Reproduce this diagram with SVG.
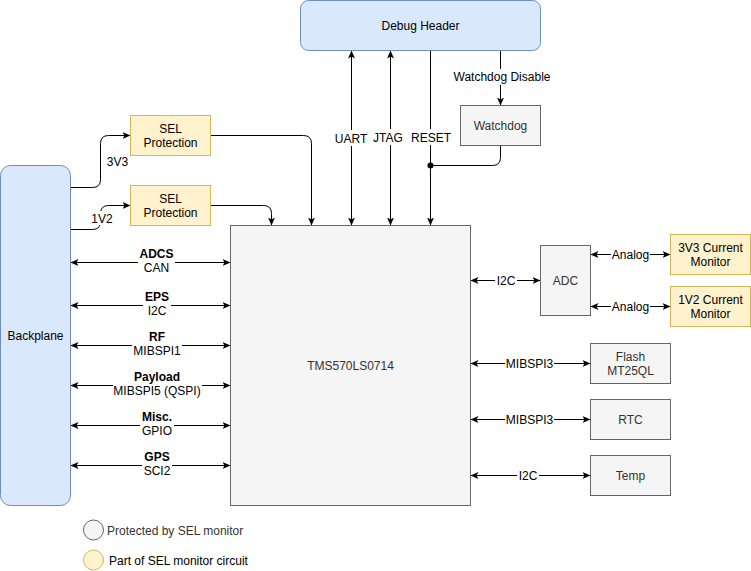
<svg xmlns="http://www.w3.org/2000/svg" width="751" height="571" viewBox="0 0 751 571">
<defs>
<marker id="ah" viewBox="0 0 8 7" refX="8" refY="3.5" markerWidth="8" markerHeight="7" markerUnits="userSpaceOnUse" orient="auto-start-reverse">
<path d="M0,0 L8,3.5 L0,7 L2,3.5 Z" fill="#000"/>
</marker>
</defs>
<style>
text{font-family:"Liberation Sans",Arial,Helvetica,sans-serif;font-size:12px;text-anchor:middle;fill:#000}
.grey{fill:#f5f5f5;stroke:#666666;stroke-width:1}
.grey+text,.gt{fill:#333333}
.yel{fill:#fff2cc;stroke:#d6b656;stroke-width:1}
.blue{fill:#dae8fc;stroke:#6c8ebf;stroke-width:1}
.c{fill:none;stroke:#000;stroke-width:1}
.a{marker-end:url(#ah)}
.b{marker-start:url(#ah);marker-end:url(#ah)}
.bg{fill:#fff;stroke:none}
.bold{font-weight:bold}
.left{text-anchor:start}
</style>

<g id="connectors">
<path class="c a" d="M70.5,187.5 H92.5 Q100.5,187.5 100.5,179.5 V143.5 Q100.5,135.5 108.5,135.5 H130.5"/>
<path class="c a" d="M70.5,229.5 H92.5 Q100.5,229.5 100.5,221.5 V213.5 Q100.5,205.5 108.5,205.5 H130.5"/>
<path class="c a" d="M210.5,135.5 H303.5 Q311.5,135.5 311.5,143.5 V225.5"/>
<path class="c a" d="M210.5,205.5 H263.5 Q271.5,205.5 271.5,213.5 V225.5"/>
<path class="c b" d="M351.5,50.5 V225.5"/>
<path class="c b" d="M390.5,50.5 V225.5"/>
<path class="c a" d="M430.5,50.5 V225.5"/>
<path class="c a" d="M500.5,50.5 V105.5"/>
<path class="c" d="M500.5,145.5 V157.5 Q500.5,165.5 492.5,165.5 H430.5"/>
<circle cx="430.5" cy="165.5" r="3" fill="#000"/>
<path class="c b" d="M70.5,262.5 H230.5"/>
<path class="c b" d="M70.5,305.5 H230.5"/>
<path class="c b" d="M70.5,345.5 H230.5"/>
<path class="c b" d="M70.5,385.5 H230.5"/>
<path class="c b" d="M70.5,425.5 H230.5"/>
<path class="c b" d="M70.5,465.5 H230.5"/>
<path class="c b" d="M470.5,280.5 H540.5"/>
<path class="c b" d="M590.5,254.5 H670.5"/>
<path class="c b" d="M590.5,306.5 H670.5"/>
<path class="c b" d="M470.5,363.5 H590.5"/>
<path class="c b" d="M470.5,419.5 H590.5"/>
<path class="c b" d="M470.5,475.5 H590.5"/>

<text x="117.5" y="166">3V3</text>
<rect class="bg" x="91" y="211" width="22" height="14"/>
<text x="102" y="222.5">1V2</text>

<rect class="bg" x="334" y="130" width="34" height="16"/>
<text x="351" y="142.5">UART</text>
<rect class="bg" x="372" y="129" width="32" height="16"/>
<text x="388" y="141.5">JTAG</text>
<rect class="bg" x="410" y="129" width="42" height="16"/>
<text x="431" y="141.5">RESET</text>
<rect class="bg" x="453" y="69" width="98" height="16"/>
<text x="502" y="81">Watchdog Disable</text>

<rect class="bg" x="138" y="249" width="37" height="27"/>
<text class="bold" x="156.5" y="258">ADCS</text>
<text x="156.5" y="271.5">CAN</text>
<rect class="bg" x="143" y="292" width="28" height="27"/>
<text class="bold" x="157" y="301">EPS</text>
<text x="157" y="314.5">I2C</text>
<rect class="bg" x="132" y="332" width="50" height="27"/>
<text class="bold" x="157" y="341">RF</text>
<text x="157" y="354.5">MIBSPI1</text>
<rect class="bg" x="113" y="372" width="89" height="27"/>
<text class="bold" x="157" y="381">Payload</text>
<text x="157" y="394.5">MIBSPI5 (QSPI)</text>
<rect class="bg" x="140" y="412" width="34" height="27"/>
<text class="bold" x="157" y="421">Misc.</text>
<text x="157" y="434.5">GPIO</text>
<rect class="bg" x="142" y="452" width="30" height="27"/>
<text class="bold" x="157" y="461">GPS</text>
<text x="157" y="474.5">SCI2</text>

<rect class="bg" x="495" y="274" width="22" height="14"/>
<text x="506" y="285">I2C</text>
<rect class="bg" x="611" y="248" width="39" height="14"/>
<text x="630.5" y="259">Analog</text>
<rect class="bg" x="611" y="300" width="39" height="14"/>
<text x="630.5" y="311">Analog</text>
<rect class="bg" x="505" y="357" width="49" height="14"/>
<text x="529.5" y="368">MIBSPI3</text>
<rect class="bg" x="505" y="413" width="49" height="14"/>
<text x="529.5" y="424">MIBSPI3</text>
<rect class="bg" x="517" y="469" width="22" height="14"/>
<text x="528" y="480">I2C</text>
</g>

<g id="backplane">
<rect class="blue" x="0.5" y="165.5" width="70" height="340" rx="10" ry="10"/>
<text x="35.5" y="340">Backplane</text>
</g>
<g id="sel-3v3">
<rect class="yel" x="130.5" y="115.5" width="80" height="40"/>
<text x="170.5" y="132.5">SEL</text>
<text x="170.5" y="146.5">Protection</text>
</g>
<g id="sel-1v2">
<rect class="yel" x="130.5" y="185.5" width="80" height="40"/>
<text x="170.5" y="202.5">SEL</text>
<text x="170.5" y="216.5">Protection</text>
</g>
<g id="mcu">
<rect class="grey" x="230.5" y="225.5" width="240" height="280"/>
<text class="gt" x="350.5" y="370">TMS570LS0714</text>
</g>
<g id="debug-header">
<rect class="blue" x="300.5" y="0.5" width="240" height="50" rx="8" ry="8"/>
<text x="420.5" y="30">Debug Header</text>
</g>
<g id="watchdog">
<rect class="grey" x="460.5" y="105.5" width="80" height="40"/>
<text class="gt" x="500.5" y="130">Watchdog</text>
</g>
<g id="adc">
<rect class="grey" x="540.5" y="245.5" width="50" height="70"/>
<text class="gt" x="565.5" y="285">ADC</text>
</g>
<g id="mon-3v3">
<rect class="yel" x="670.5" y="234.5" width="80" height="40"/>
<text x="710.5" y="251.5">3V3 Current</text>
<text x="710.5" y="265.5">Monitor</text>
</g>
<g id="mon-1v2">
<rect class="yel" x="670.5" y="286.5" width="80" height="40"/>
<text x="710.5" y="303.5">1V2 Current</text>
<text x="710.5" y="317.5">Monitor</text>
</g>
<g id="flash">
<rect class="grey" x="590.5" y="343.5" width="80" height="40"/>
<text class="gt" x="630.5" y="360.5">Flash</text>
<text class="gt" x="630.5" y="374.5">MT25QL</text>
</g>
<g id="rtc">
<rect class="grey" x="590.5" y="399.5" width="80" height="40"/>
<text class="gt" x="630.5" y="424">RTC</text>
</g>
<g id="temp">
<rect class="grey" x="590.5" y="455.5" width="80" height="40"/>
<text class="gt" x="630.5" y="480">Temp</text>
</g>
<g id="legend">
<circle class="grey" cx="93.5" cy="530" r="10"/>
<text class="left" x="107" y="534.5">Protected by SEL monitor</text>
<circle class="yel" cx="93.5" cy="560" r="10"/>
<text class="left" x="109" y="564.5">Part of SEL monitor circuit</text>
</g>
</svg>
